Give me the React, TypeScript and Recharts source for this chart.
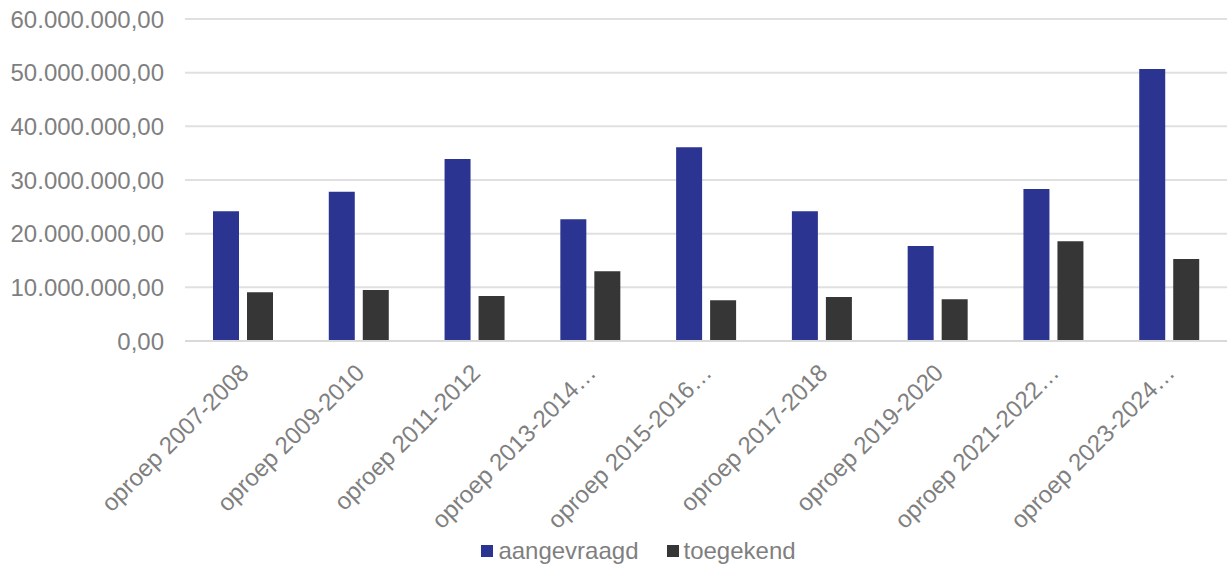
import React from 'react';
import {
  BarChart, Bar, XAxis, YAxis, CartesianGrid, Legend,
} from 'recharts';

const categories = [
  'oproep 2007-2008',
  'oproep 2009-2010',
  'oproep 2011-2012',
  'oproep 2013-2014…',
  'oproep 2015-2016…',
  'oproep 2017-2018',
  'oproep 2019-2020',
  'oproep 2021-2022…',
  'oproep 2023-2024…',
];
const aangevraagd = [24200000, 27800000, 33900000, 22700000, 36100000, 24200000, 17700000, 28300000, 50700000];
const toegekend = [9100000, 9500000, 8400000, 13000000, 7600000, 8200000, 7800000, 18600000, 15300000];
const yTicks = [0, 10000000, 20000000, 30000000, 40000000, 50000000, 60000000];

const data = categories.map((name, i) => ({
  name,
  aangevraagd: aangevraagd[i],
  toegekend: toegekend[i],
}));

const FONT = '"Liberation Sans", Arial, sans-serif';
const GREY = '#7f7f7f';

// 60000000 -> 60.000.000,00
const fmt = (v: number) => {
  const int = Math.round(v).toString().replace(/\B(?=(\d{3})+(?!\d))/g, '.');
  return `${int},00`;
};

const XTick = ({ x, y, payload }: any) => (
  <g transform={`translate(${x - 5},${y}) rotate(-45)`}>
    <text x={0} y={0} dy="0.72em" textAnchor="end" fill={GREY} fontSize={24} fontFamily={FONT}>
      {payload.value}
    </text>
  </g>
);

const LegendContent = ({ payload }: any) => (
  <div
    style={{
      display: 'flex', justifyContent: 'center', gap: 28, paddingLeft: 50,
      fontFamily: FONT, fontSize: 24, color: GREY, lineHeight: '26px', height: 26,
    }}
  >
    {(payload || []).map((p: any) => (
      <span key={p.value} style={{ display: 'flex', alignItems: 'center' }}>
        <span style={{ width: 12, height: 12, background: p.color, marginRight: 5, display: 'inline-block' }} />
        {p.value}
      </span>
    ))}
  </div>
);

export default function App() {
  return (
    <div style={{ position: 'absolute', left: 0, top: 0, background: '#fff' }}>
      <BarChart
        width={1227}
        height={564}
        data={data}
        margin={{ top: 19, right: 0, bottom: 0, left: 0 }}
        barSize={26}
        barGap={8}
      >
        <CartesianGrid vertical={false} stroke="#e0e0e0" strokeWidth={2} />
        <XAxis
          dataKey="name"
          height={197}
          interval={0}
          tickSize={0}
          tickMargin={21}
          tickLine={false}
          axisLine={{ stroke: '#d9d9d9', strokeWidth: 2 }}
          tick={<XTick />}
        />
        <YAxis
          width={185}
          domain={[0, 60000000]}
          ticks={yTicks}
          tickSize={0}
          tickMargin={21}
          axisLine={false}
          tickLine={false}
          tickFormatter={fmt}
          tick={{ fill: GREY, fontSize: 24, fontFamily: FONT }}
        />
        <Legend verticalAlign="bottom" content={<LegendContent />} />
        <Bar dataKey="aangevraagd" fill="#2b3591" isAnimationActive={false} />
        <Bar dataKey="toegekend" fill="#363636" isAnimationActive={false} />
      </BarChart>
    </div>
  );
}
